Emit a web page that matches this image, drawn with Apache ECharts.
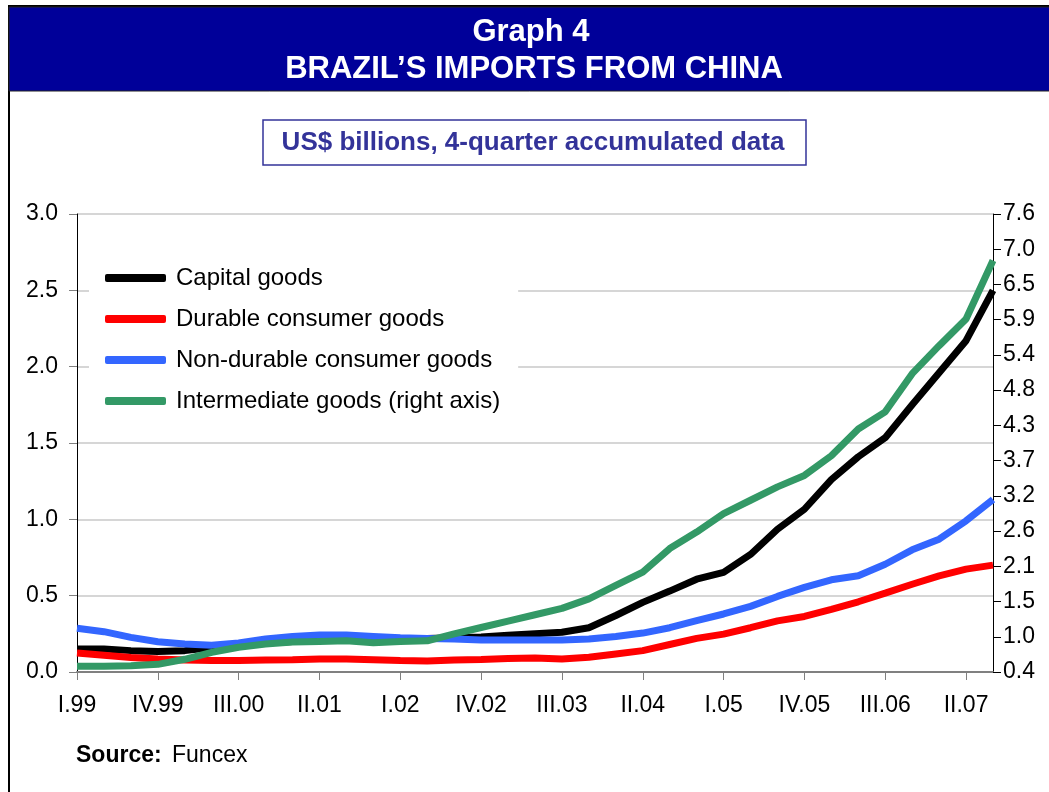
<!DOCTYPE html>
<html>
<head>
<meta charset="utf-8">
<script src="https://cdn.jsdelivr.net/npm/echarts@6/dist/echarts.min.js"></script>
<style>
html,body{margin:0;padding:0;background:#fff;}
#chart{width:1049px;height:792px;}
</style>
</head>
<body>
<div id="chart"></div>
<script>
const quarters = ['I.99','II.99','III.99','IV.99','I.00','II.00','III.00','IV.00',
  'I.01','II.01','III.01','IV.01','I.02','II.02','III.02','IV.02',
  'I.03','II.03','III.03','IV.03','I.04','II.04','III.04','IV.04',
  'I.05','II.05','III.05','IV.05','I.06','II.06','III.06','IV.06',
  'I.07','II.07','III.07'];
const capitalGoods = [0.15,0.15,0.14,0.135,0.14,0.16,0.18,0.19,0.20,0.21,0.215,0.215,0.215,0.22,0.225,0.23,
  0.24,0.25,0.26,0.29,0.37,0.456,0.53,0.608,0.652,0.77,0.935,1.066,1.26,1.41,1.535,1.75,1.96,2.17,2.50];
const durableGoods = [0.125,0.11,0.095,0.085,0.078,0.075,0.075,0.078,0.08,0.085,0.085,0.08,0.075,0.072,0.078,0.082,
  0.088,0.092,0.085,0.096,0.118,0.14,0.18,0.22,0.248,0.29,0.335,0.364,0.41,0.46,0.517,0.575,0.63,0.674,0.70];
const nonDurableGoods = [0.286,0.264,0.227,0.198,0.183,0.176,0.19,0.216,0.233,0.242,0.242,0.233,0.224,0.22,0.216,0.21,
  0.21,0.21,0.21,0.216,0.233,0.255,0.29,0.336,0.38,0.43,0.495,0.554,0.604,0.63,0.706,0.80,0.87,0.99,1.13];
const intermediateGoods = [0.49,0.49,0.50,0.52,0.60,0.71,0.79,0.84,0.87,0.88,0.89,0.86,0.88,0.89,1.00,1.10,
  1.20,1.30,1.40,1.55,1.76,1.97,2.34,2.60,2.89,3.10,3.31,3.49,3.80,4.22,4.49,5.09,5.53,5.95,6.87];
const seriesNames = ['Capital goods','Durable consumer goods','Non-durable consumer goods','Intermediate goods (right axis)'];
const seriesColors = ['#000000','#ff0000','#3366ff','#339966'];
const titleLines = ['Graph 4','BRAZIL\u2019S IMPORTS FROM CHINA'];
const subtitleText = 'US$ billions, 4-quarter accumulated data';

const FONT = 'Liberation Sans, Arial, sans-serif';
const chart = echarts.init(document.getElementById('chart'), null, {renderer:'canvas'});
const allData = [capitalGoods, durableGoods, nonDurableGoods, intermediateGoods];

chart.setOption({
  animation:false,
  backgroundColor:'#ffffff',
  textStyle:{fontFamily:FONT},
  graphic:[
    {type:'rect', z:-10, shape:{x:9,y:6,width:1100,height:900}, style:{fill:'#fff',stroke:'#000',lineWidth:2}},
    {type:'rect', z:1, shape:{x:9,y:7,width:1100,height:84}, style:{fill:'#000099',stroke:'#222',lineWidth:1}},
    {type:'text', z:2, x:531, y:32, style:{text:titleLines[0], fill:'#fff', font:'bold 31px '+FONT, align:'center', verticalAlign:'middle'}},
    {type:'text', z:2, x:534, y:69, style:{text:titleLines[1], fill:'#fff', font:'bold 31px '+FONT, align:'center', verticalAlign:'middle'}},
    {type:'rect', z:1, shape:{x:263,y:120,width:543,height:45}, style:{fill:'#fff',stroke:'#333399',lineWidth:1.5}},
    {type:'text', z:2, x:533, y:143, style:{text:subtitleText, fill:'#333399', font:'bold 26px '+FONT, align:'center', verticalAlign:'middle'}},
    {type:'text', z:2, left:76, top:744, style:{
      text:'{b|Source:}{n| Funcex}',
      rich:{b:{fontWeight:'bold',fontSize:23,fontFamily:FONT,fill:'#000'},n:{fontSize:23,fontFamily:FONT,fill:'#000',padding:[0,0,0,4]}}
    }}
  ],
  grid:{left:77, right:56, top:214, bottom:120, containLabel:false},
  legend:{
    orient:'vertical', left:89, top:258,
    backgroundColor:'#ffffff',
    padding:[8,18,8,16],
    itemWidth:61, itemHeight:8, itemGap:17,
    icon:'roundRect',
    textStyle:{fontSize:24, fontFamily:FONT, color:'#000', lineHeight:24, padding:[0,0,0,5]},
    data:seriesNames
  },
  xAxis:{
    type:'category', data:quarters, boundaryGap:false,
    axisLine:{lineStyle:{color:'#808080', width:2}},
    axisTick:{show:true, interval:2, length:8, lineStyle:{color:'#808080', width:1}},
    axisLabel:{interval:2, fontSize:23, color:'#000', margin:22, fontFamily:FONT},
    splitLine:{show:false}
  },
  yAxis:[
    {type:'value', min:0, max:3, interval:0.5, position:'left',
     axisLine:{show:true, lineStyle:{color:'#000', width:1}},
     axisTick:{show:true, length:8, lineStyle:{color:'#808080'}},
     axisLabel:{fontSize:23, color:'#000', margin:19, fontFamily:FONT, formatter:v=>v.toFixed(1)},
     splitLine:{show:true, lineStyle:{color:'#c8c8c8', width:1.5}}
    },
    {type:'value', min:0.4, max:7.6, interval:7.2/13, position:'right',
     axisLine:{show:true, lineStyle:{color:'#000', width:1}},
     axisTick:{show:true, length:8, lineStyle:{color:'#000'}},
     axisLabel:{fontSize:23, color:'#000', margin:10, fontFamily:FONT, formatter:v=>v.toFixed(1)},
     splitLine:{show:false}
    }
  ],
  series: seriesNames.map((name,i)=>({
    name:name, type:'line', data:allData[i], yAxisIndex: i===3?1:0,
    showSymbol:false, symbol:'none', smooth:false,
    lineStyle:{color:seriesColors[i], width:7},
    itemStyle:{color:seriesColors[i]},
    z:2+i
  }))
});
</script>
</body>
</html>
